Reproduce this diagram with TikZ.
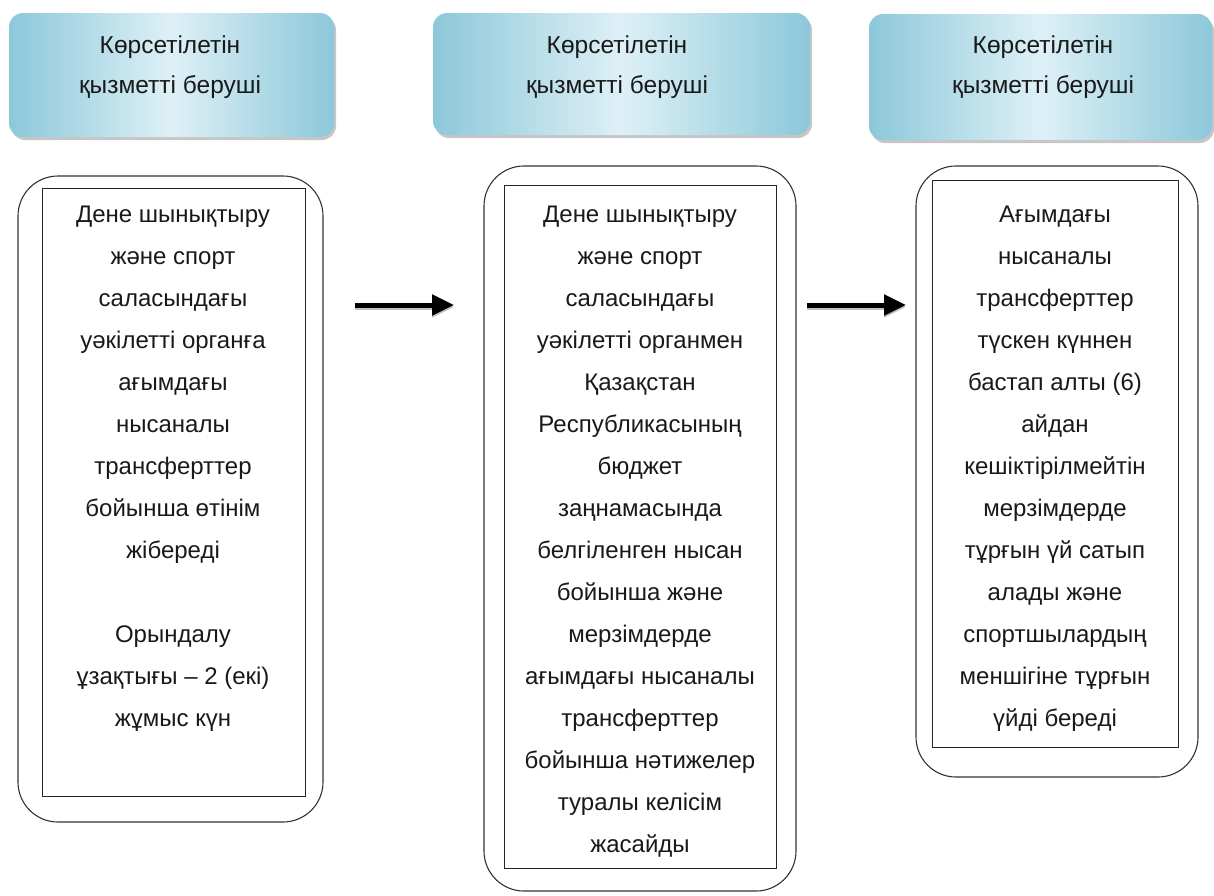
\documentclass[tikz,border=0pt]{standalone}
\usepackage{fontspec}
\setmainfont{Liberation Sans}
\usetikzlibrary{shadows,arrows.meta}
\definecolor{hdredge}{RGB}{140,200,218}
\definecolor{hdrmid}{RGB}{222,240,246}
\definecolor{txt}{RGB}{25,25,25}
\tikzset{
  hdr/.style={draw=none, rounded corners=14pt, left color=hdredge, right color=hdredge, middle color=hdrmid,
    drop shadow={opacity=0.45, shadow xshift=2pt, shadow yshift=-3pt}},
  outerbox/.style={draw=black!80, line width=1.1pt, rounded corners=40pt},
  innerbox/.style={draw=black!85, line width=1.4pt},
  hdrtext/.style={align=center, inner sep=0pt, text=txt, font=\fontsize{24.5}{40}\selectfont},
  bodytext/.style={align=center, inner sep=0pt, anchor=north, text=txt, font=\fontsize{24}{42}\selectfont},
  bigarrow/.style={line width=5pt, -{Triangle[length=22pt,width=20pt]}},
  arrowshadow/.style={line width=5pt, draw=black!25, -{Triangle[length=22pt,width=20pt]}}
}
\begin{document}
\begin{tikzpicture}[x=1pt,y=-1pt]
\useasboundingbox (0,0) rectangle (1214,895);
% headers
\path[hdr] (9,13) rectangle (334,137);
\path[hdr] (433,13) rectangle (810,135);
\path[hdr] (869,14) rectangle (1212,140);
\node[hdrtext] (h1) at (170,65) {\strut Көрсетілетін\\\strut қызметті беруші};
\node[hdrtext] (h2) at (617,65) {\strut Көрсетілетін\\\strut қызметті беруші};
\node[hdrtext] (h3) at (1043,65) {\strut Көрсетілетін\\\strut қызметті беруші};
% outer boxes
\draw[outerbox] (18,176) rectangle (323,822);
\draw[outerbox] (484,166) rectangle (796,891);
\draw[outerbox] (916,166) rectangle (1198,777);
% inner boxes
\node[innerbox, minimum width=263pt, minimum height=608pt, anchor=north west, inner sep=0pt] (b1) at (42,188) {};
\node[innerbox, minimum width=272pt, minimum height=683pt, anchor=north west, inner sep=0pt] (b2) at (504,185) {};
\node[innerbox, minimum width=246pt, minimum height=567pt, anchor=north west, inner sep=0pt] (b3) at (932,180) {};
% body texts
\node[bodytext] (t1) at (173,193) {\strut Дене шынықтыру\\ жəне спорт\\ саласындағы\\ уәкілетті органға\\ ағымдағы\\ нысаналы\\ трансферттер\\ бойынша өтінім\\ жібереді\\ \strut\\ Орындалу\\ ұзақтығы – 2 (екі)\\ жұмыс күн};
\node[bodytext] (t2) at (640,193) {\strut Дене шынықтыру\\ жəне спорт\\ саласындағы\\ уәкілетті органмен\\ Қазақстан\\ Республикасының\\ бюджет\\ заңнамасында\\ белгіленген нысан\\ бойынша және\\ мерзімдерде\\ ағымдағы нысаналы\\ трансферттер\\ бойынша нәтижелер\\ туралы келісім\\ жасайды};
\node[bodytext] (t3) at (1055,193) {\strut Ағымдағы\\ нысаналы\\ трансферттер\\ түскен күннен\\ бастап алты (6)\\ айдан\\ кешіктірілмейтін\\ мерзімдерде\\ тұрғын үй сатып\\ алады және\\ спортшылардың\\ меншігіне тұрғын\\ үйді береді};
% arrows
\coordinate (a1s) at (355,305);
\coordinate (a1e) at (454,305);
\coordinate (a2s) at (807,305);
\coordinate (a2e) at (906,305);
\draw[arrowshadow] ([yshift=-2pt]a1s) -- ([yshift=-2pt]a1e);
\draw[arrowshadow] ([yshift=-2pt]a2s) -- ([yshift=-2pt]a2e);
\draw[bigarrow] (a1s) -- (a1e);
\draw[bigarrow] (a2s) -- (a2e);
\end{tikzpicture}
\end{document}
